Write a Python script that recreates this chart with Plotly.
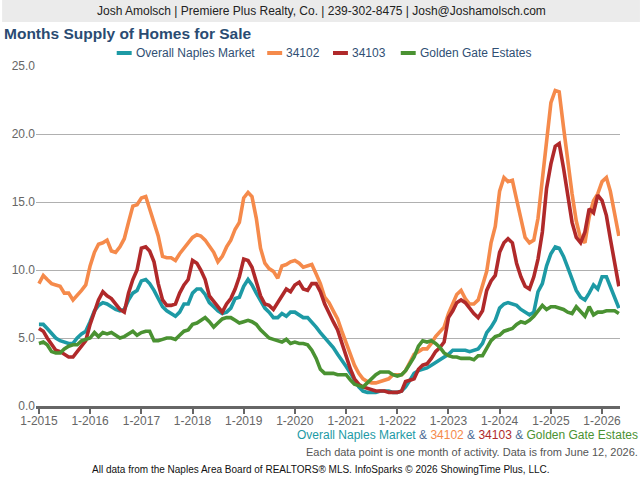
import pandas as pd
import plotly.graph_objects as go

months = pd.date_range("2015-01-01", "2026-05-01", freq="MS")

overall_naples = [
    6.0, 6.0, 5.7, 5.3, 5.0, 4.8, 4.7, 4.6, 4.6, 5.0, 5.3, 5.5,
    6.2, 7.0, 7.4, 7.6, 7.5, 7.3, 7.1, 7.0, 7.1, 7.8, 8.3, 8.5,
    9.2, 9.3, 9.0, 8.5, 7.9, 7.3, 7.0, 6.8, 6.6, 6.9, 7.5, 7.5,
    8.3, 8.6, 8.6, 8.2, 7.6, 7.3, 7.0, 6.8, 6.9, 7.2, 7.9, 8.0,
    8.8, 9.3, 8.9, 8.3, 7.7, 7.2, 6.9, 6.5, 6.5, 6.8, 6.6, 6.9,
    6.9, 6.7, 6.5, 6.5, 6.2, 5.8, 5.4, 5.0, 4.7, 4.3, 3.8, 3.4,
    2.9, 2.4, 1.9, 1.4, 1.1, 1.0, 1.0, 1.0, 1.1, 1.1, 1.1, 1.0,
    1.0, 1.1, 1.4, 1.9, 2.4, 2.6, 2.7, 2.8, 3.0, 3.2, 3.4, 3.6,
    3.8, 4.1, 4.1, 4.1, 4.1, 4.0, 4.1, 4.2, 4.6, 5.4, 5.8, 6.3,
    7.2, 7.5, 7.6, 7.5, 7.4, 7.1, 6.9, 6.7, 6.9, 8.4, 9.0, 10.3,
    11.2, 11.7, 11.6, 11.0, 10.2, 9.3, 8.5, 8.0, 7.8, 8.3, 8.9, 8.6,
    9.5, 9.5, 8.8, 8.0, 7.2,
]

zip_34102 = [
    9.0, 9.6, 9.3, 9.0, 8.9, 8.8, 8.3, 8.3, 7.8, 8.1, 8.5, 8.9,
    10.3, 11.3, 11.9, 12.0, 12.2, 11.4, 11.3, 11.7, 12.3, 13.5, 14.7, 14.8,
    15.3, 15.4, 14.5, 13.5, 12.5, 11.0, 10.9, 10.9, 10.7, 11.2, 11.6, 12.0,
    12.4, 12.6, 12.5, 12.2, 11.8, 11.3, 10.6, 11.0, 11.7, 12.2, 13.0, 13.5,
    15.3, 15.7, 15.4, 13.8, 11.6, 10.5, 10.1, 9.9, 9.4, 10.3, 10.4, 10.6,
    10.7, 10.5, 10.2, 10.3, 10.4, 9.7, 9.0, 8.0, 7.6, 7.0, 6.4, 5.5,
    4.6, 3.8, 3.0, 2.4, 2.0, 1.8, 1.7, 1.7, 1.8, 1.9, 2.0, 2.3,
    2.3, 2.3, 2.6, 3.2, 3.8, 4.0, 4.2, 4.2, 4.6, 5.1, 5.5, 5.8,
    6.8, 7.6, 8.2, 8.5, 7.9, 7.5, 7.5, 7.8, 8.8, 9.9, 12.0, 13.2,
    15.8, 16.8, 16.5, 16.6, 15.2, 13.9, 12.4, 12.0, 12.2, 13.8, 16.5, 19.5,
    22.3, 23.2, 23.1, 20.5, 18.0, 15.6, 13.6, 12.3, 12.0, 13.9, 15.1, 15.6,
    16.5, 16.8, 15.8, 14.2, 12.5,
]

zip_34103 = [
    5.7, 5.5, 5.0, 4.5, 4.1, 4.0, 3.8, 3.6, 3.6, 4.0, 4.4, 4.8,
    6.0, 7.0, 7.8, 8.4, 8.1, 7.9, 7.5, 7.1, 6.9, 8.3, 9.3, 10.0,
    11.6, 11.7, 11.4, 10.6, 9.0, 7.8, 7.4, 7.4, 7.5, 8.3, 8.9, 9.3,
    10.7, 10.5, 10.0, 9.3, 8.1, 7.7, 7.3, 6.9, 7.5, 7.9, 8.6, 9.5,
    10.8, 10.7, 10.2, 9.2, 8.1, 7.5, 7.4, 7.1, 7.6, 8.2, 8.6, 8.4,
    8.9, 9.1, 8.6, 8.5, 9.0, 9.0, 8.4, 7.5, 6.8, 6.2, 5.6, 4.6,
    3.6, 2.7, 2.0, 1.6, 1.4, 1.3, 1.2, 1.1, 1.1, 1.1, 1.0, 1.0,
    1.0, 1.1, 1.8, 1.9, 2.0, 2.7, 3.0, 3.1, 3.5, 4.0, 4.3, 4.7,
    6.5, 7.0, 7.6, 7.8, 7.6, 7.2, 6.8, 6.5, 7.0, 8.5, 9.2, 9.6,
    11.3, 12.0, 12.3, 12.0, 10.5, 9.5, 8.8, 8.6, 9.5, 10.8, 12.8, 16.0,
    17.8, 19.1, 19.3, 17.5, 15.6, 13.5, 12.4, 12.0, 12.8, 14.5, 14.2, 15.5,
    15.1, 14.0, 12.3, 10.5, 8.8,
]

golden_gate = [
    4.6, 4.7, 4.5, 4.0, 3.9, 3.9, 4.2, 4.4, 4.5, 4.5, 4.8, 4.9,
    5.0, 5.4, 5.1, 5.4, 5.3, 5.4, 5.2, 5.0, 5.1, 5.3, 5.5, 5.2,
    5.4, 5.5, 5.5, 4.8, 4.8, 4.9, 5.0, 5.0, 4.9, 5.2, 5.5, 5.6,
    6.0, 6.1, 6.3, 6.5, 6.2, 5.8, 6.1, 6.4, 6.5, 6.5, 6.3, 6.1,
    6.2, 6.3, 6.2, 6.0, 5.6, 5.3, 5.0, 4.9, 4.8, 4.7, 4.9, 4.6,
    4.7, 4.6, 4.6, 4.5, 4.1, 3.5, 2.7, 2.4, 2.4, 2.4, 2.3, 2.3,
    2.3, 1.9, 1.6, 1.5, 1.4, 1.7, 2.0, 2.3, 2.5, 2.5, 2.5, 2.3,
    2.2, 2.3, 2.6, 3.1, 3.6, 4.4, 4.8, 4.7, 4.8, 4.6, 4.3, 3.9,
    3.7, 3.6, 3.6, 3.5, 3.5, 3.5, 3.4, 3.7, 3.7, 4.3, 4.8, 5.1,
    5.2, 5.5, 5.6, 5.7, 6.0, 6.2, 6.1, 6.3, 6.6, 7.0, 7.4, 7.1,
    7.3, 7.3, 7.2, 7.1, 6.9, 6.8, 7.3, 6.9, 6.6, 7.3, 6.7, 6.9,
    6.9, 7.0, 7.0, 7.0, 6.8,
]

series_names = ["Overall Naples Market", "34102", "34103", "Golden Gate Estates"]
series_values = [overall_naples, zip_34102, zip_34103, golden_gate]
series_colors = ["#1d9aa5", "#f58a4b", "#b0292a", "#4a9232"]

tick_dates = pd.date_range("2015-01-01", "2026-01-01", freq="YS")
tick_labels = [f"1-{d.year}" for d in tick_dates]
y_ticks = [0, 5, 10, 15, 20, 25]

FONT = "Arial, 'Liberation Sans', sans-serif"

fig = go.Figure()
for name, vals, col in zip(series_names, series_values, series_colors):
    fig.add_trace(go.Scatter(
        x=months, y=vals, mode="lines", name=name, showlegend=False,
        line=dict(color=col, width=3.6),
    ))

W, H = 640, 480
ml, mr, mt, mb = 34, 20, 66, 74
pw, ph = W - ml - mr, H - mt - mb


def px(x):
    return (x - ml) / pw


def py(y):
    return (H - mb - y) / ph


fig.update_layout(
    width=W, height=H,
    margin=dict(l=ml, r=mr, t=mt, b=mb),
    paper_bgcolor="white", plot_bgcolor="white",
    font=dict(family=FONT, size=12, color="#666666"),
    showlegend=False,
    xaxis=dict(
        range=["2014-12-11", "2026-05-09"],
        tickvals=tick_dates, ticktext=tick_labels,
        showgrid=False, zeroline=False,
        showline=True, linecolor="#666666", linewidth=3,
        ticks="outside", ticklen=5, tickwidth=2, tickcolor="#666666",
        ticklabelstandoff=-3,
        tickfont=dict(size=12, color="#666666"),
    ),
    yaxis=dict(
        range=[0, 25], tickvals=y_ticks, tickformat=".1f",
        showgrid=True, gridcolor="#b0b0b0", gridwidth=1,
        zeroline=False, showline=False, ticks="",
        tickfont=dict(size=12, color="#666666"),
    ),
    hovermode=False,
)

# header band
fig.add_shape(type="rect", xref="paper", yref="paper",
              x0=px(0), x1=px(W), y0=py(22), y1=py(0),
              fillcolor="#ebebeb", line=dict(width=0), layer="below")

fig.add_annotation(
    xref="paper", yref="paper", x=px(320), y=py(11), xanchor="center", yanchor="middle",
    text="Josh Amolsch | Premiere Plus Realty, Co. | 239-302-8475 | Josh@Joshamolsch.com",
    showarrow=False, font=dict(size=12, color="#222222", family=FONT))

fig.add_annotation(
    xref="paper", yref="paper", x=px(0), y=py(34), xanchor="left", yanchor="middle",
    text="<b>Months Supply of Homes for Sale</b>",
    showarrow=False, font=dict(size=15.5, color="#2a4b72", family=FONT))

# custom legend (symbol segment + label)
legend_sym_x = [115, 266, 332, 400]
for name, col, sx in zip(series_names, series_colors, legend_sym_x):
    fig.add_shape(type="line", xref="paper", yref="paper",
                  x0=px(sx), x1=px(sx + 15), y0=py(53), y1=py(53),
                  line=dict(color=col, width=4))
    fig.add_annotation(
        xref="paper", yref="paper", x=px(sx + 18), y=py(53), xanchor="left", yanchor="middle",
        text=name, showarrow=False, borderpad=0,
        font=dict(size=12, color="#2f4f74", family=FONT))

amp = '<span style="color:#4b6b94"> &amp; </span>'
parts = [f'<span style="color:{c}">{n}</span>' for n, c in zip(series_names, series_colors)]
fig.add_annotation(
    xref="paper", yref="paper", x=px(639), y=py(435), xanchor="right", yanchor="middle",
    text=amp.join(parts), showarrow=False, borderpad=0, font=dict(size=12, family=FONT))

fig.add_annotation(
    xref="paper", yref="paper", x=px(640), y=py(452), xanchor="right", yanchor="middle",
    text="Each data point is one month of activity. Data is from June 12, 2026.",
    showarrow=False, font=dict(size=11, color="#555555", family=FONT))

fig.add_annotation(
    xref="paper", yref="paper", x=px(320), y=py(469), xanchor="center", yanchor="middle",
    text="All data from the Naples Area Board of REALTORS® MLS. InfoSparks © 2026 ShowingTime Plus, LLC.",
    showarrow=False, font=dict(size=10, color="#111111", family=FONT))

fig.write_html("out.html")
